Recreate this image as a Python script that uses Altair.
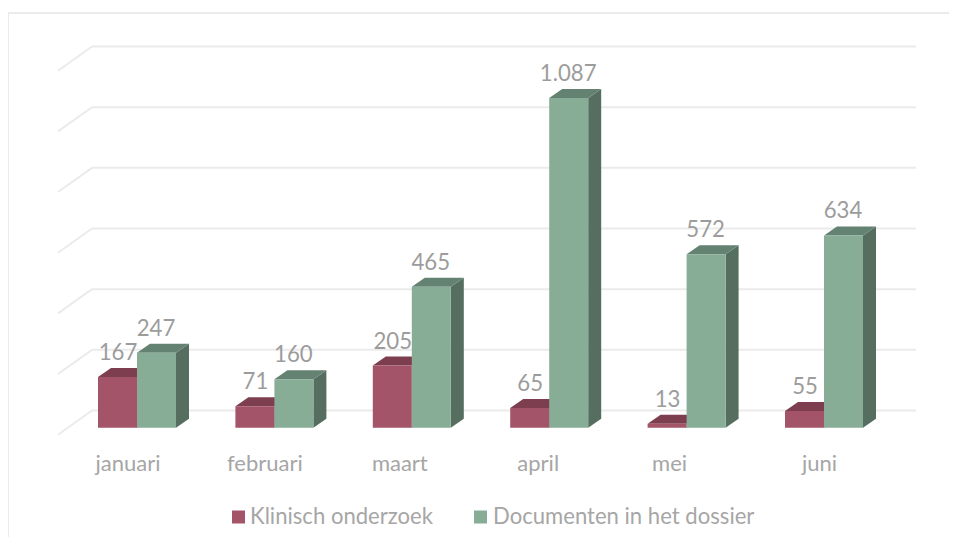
import altair as alt
import pandas as pd

months = ["januari", "februari", "maart", "april", "mei", "juni"]
klinisch = [167, 71, 205, 65, 13, 55]
documenten = [247, 160, 465, 1087, 572, 634]
value_labels_k = ["167", "71", "205", "65", "13", "55"]
value_labels_d = ["247", "160", "465", "1.087", "572", "634"]
grid_values = [0, 200, 400, 600, 800, 1000, 1200]

# layout in scale units
PX_X = 137.4      # pixels per category step
PX_Y = 0.3033     # pixels per value unit
BASE = 427.7
W = 39 / PX_X
DX = 13 / PX_X
DY = 9 / PX_Y
BACK_Y = 17.2 / PX_Y
BACK_L = -6 / PX_X
BACK_R = 818 / PX_X
FLOOR_L = -40 / PX_X
FLOOR_Y = -7 / PX_Y
label_shift = [30, 29.5, 27, 28, 22, 34.5]

x_scale = alt.Scale(domain=[(8 - 98) / PX_X, (949 - 98) / PX_X], nice=False, zero=False)
y_scale = alt.Scale(domain=[(BASE - 537) / PX_Y, (BASE - 8) / PX_Y], nice=False, zero=False)
X = lambda f="x": alt.X(f"{f}:Q", scale=x_scale, axis=None)
Y = lambda f="y": alt.Y(f"{f}:Q", scale=y_scale, axis=None, stack=None)

GRID = "#EBEBEB"
TXT = "#A6A6A6"
NUM = "#9C9C9C"
FONT = "Lato"

# gridlines and floor diagonals
grid_df = pd.DataFrame([{"x": BACK_L, "x2": BACK_R, "y": v + BACK_Y} for v in grid_values])
grid = alt.Chart(grid_df).mark_rule(color=GRID, strokeWidth=2).encode(x=X(), x2="x2:Q", y=Y())
diag_rows = []
for i, v in enumerate(grid_values):
    diag_rows.append({"g": i, "x": FLOOR_L, "y": v + FLOOR_Y})
    diag_rows.append({"g": i, "x": BACK_L, "y": v + BACK_Y})
diag = alt.Chart(pd.DataFrame(diag_rows)).mark_line(color=GRID, strokeWidth=2).encode(
    x=X(), y=Y(), detail="g:N")


def bar_layers(values, x_off, front, top, side, name):
    rows_top, rows_side, rows_front = [], [], []
    for i, v in enumerate(values):
        a = i + x_off
        g = f"{name}{i}"
        rows_front.append({"x": a, "x2": a + W, "y": 0, "y2": v})
        rows_top += [
            {"g": g, "x": a, "lo": v, "hi": v},
            {"g": g, "x": a + DX, "lo": v, "hi": v + DY},
            {"g": g, "x": a + W, "lo": v, "hi": v + DY},
            {"g": g, "x": a + W + DX, "lo": v + DY, "hi": v + DY},
        ]
        rows_side += [
            {"g": g, "x": a + W, "lo": 0, "hi": v},
            {"g": g, "x": a + W + DX, "lo": DY, "hi": v + DY},
        ]
    side_l = alt.Chart(pd.DataFrame(rows_side)).mark_area(color=side, orient="vertical").encode(
        x=X(), y=Y("hi"), y2="lo:Q", detail="g:N")
    top_l = alt.Chart(pd.DataFrame(rows_top)).mark_area(color=top, orient="vertical").encode(
        x=X(), y=Y("hi"), y2="lo:Q", detail="g:N")
    front_l = alt.Chart(pd.DataFrame(rows_front)).mark_rect(color=front).encode(
        x=X(), x2="x2:Q", y=Y(), y2="y2:Q")
    return [side_l, top_l, front_l]


red = bar_layers(klinisch, 0, "#A35468", "#7D3F50", "#7D3F50", "k")
green = bar_layers(documenten, W, "#88AD97", "#648272", "#566E60", "d")

# value labels
lab_rows = []
for i in range(6):
    lab_rows.append({"x": i + W / 2 + 0.5 / PX_X, "y": klinisch[i], "t": value_labels_k[i]})
    lab_rows.append({"x": i + W * 1.5 - 0.5 / PX_X, "y": documenten[i], "t": value_labels_d[i]})
val_labels = alt.Chart(pd.DataFrame(lab_rows)).mark_text(
    font=FONT, fontSize=22.2, color=NUM, baseline="middle", dy=-24
).encode(x=X(), y=Y(), text="t:N")

# category labels
cat_df = pd.DataFrame({"x": [i + s / PX_X for i, s in enumerate(label_shift)],
                       "y": [(BASE - 464) / PX_Y] * 6, "t": months})
cat_labels = alt.Chart(cat_df).mark_text(
    font=FONT, fontSize=22, color=TXT, baseline="middle"
).encode(x=X(), y=Y(), text="t:N")

# chart frame
one = pd.DataFrame({"a": [0]})
frame_top = alt.Chart(one).mark_rule(color=GRID, strokeWidth=2).encode(
    x=alt.value(0), x2=alt.value(941), y=alt.value(5))
frame_left = alt.Chart(one).mark_rule(color=GRID, strokeWidth=2).encode(
    x=alt.value(0), y=alt.value(5), y2=alt.value(529))

# legend
legend_names = ["Klinisch onderzoek", "Documenten in het dossier"]
leg = []
for name, c, xs, xt in zip(legend_names, ["#A35468", "#88AD97"], [230.5, 472.5], [242, 485]):
    leg.append(alt.Chart(one).mark_square(size=169, opacity=1, color=c).encode(
        x=alt.value(xs), y=alt.value(509)))
    leg.append(alt.Chart(pd.DataFrame({"t": [name]})).mark_text(
        font=FONT, fontSize=22.1, color=TXT, align="left", baseline="middle"
    ).encode(x=alt.value(xt), y=alt.value(509), text="t:N"))

chart = alt.layer(
    frame_top, frame_left, grid, diag, *red, *green, val_labels, cat_labels, *leg
).properties(
    width=941, height=529,
    autosize=alt.AutoSizeParams(type="none"),
    padding=0,
    background="#FFFFFF",
).configure_view(stroke=None)

chart.save("out.html", embed_options={"renderer": "svg", "actions": False})
